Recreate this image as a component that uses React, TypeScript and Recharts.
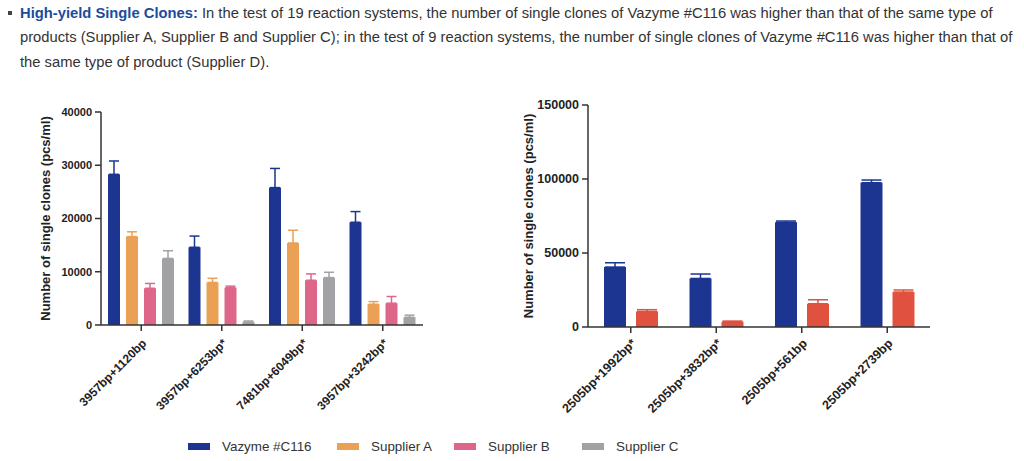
import React from 'react';
import { BarChart, Bar, XAxis, YAxis, ErrorBar } from 'recharts';

const leftCategories = ['3957bp+1120bp', '3957bp+6253bp*', '7481bp+6049bp*', '3957bp+3242bp*'];
const vazymeLeft = [28300, 14600, 25800, 19300];
const vazymeLeftErr = [2500, 2100, 3600, 2000];
const supplierA = [16600, 8000, 15400, 3900];
const supplierAErr = [900, 770, 2400, 500];
const supplierB = [6900, 7000, 8400, 4100];
const supplierBErr = [900, 300, 1200, 1250];
const supplierC = [12500, 550, 8900, 1450];
const supplierCErr = [1450, 200, 1000, 400];
const leftTicks = [0, 10000, 20000, 30000, 40000];

const rightCategories = ['2505bp+1992bp*', '2505bp+3832bp*', '2505bp+561bp', '2505bp+2739bp'];
const vazymeRight = [40500, 32800, 70700, 97500];
const vazymeRightErr = [2900, 3000, 900, 1800];
const supplierD = [10500, 3500, 15700, 23600];
const supplierDErr = [1200, 500, 2700, 1400];
const rightTicks = [0, 50000, 100000, 150000];

const legendNames = ['Vazyme #C116', 'Supplier A', 'Supplier B', 'Supplier C'];

const BLUE = '#1b3591';
const ORANGE = '#eaa055';
const PINK = '#de6789';
const GRAY = '#a2a2a6';
const RED = '#e0513f';
const AXIS = '#333333';
const FONT = '"Liberation Sans", Arial, Helvetica, sans-serif';

const leftData = leftCategories.map((c, i) => ({
  name: c,
  v: vazymeLeft[i], ve: [0, vazymeLeftErr[i]],
  a: supplierA[i], ae: [0, supplierAErr[i]],
  b: supplierB[i], be: [0, supplierBErr[i]],
  c: supplierC[i], ce: [0, supplierCErr[i]],
}));

const rightData = rightCategories.map((c, i) => ({
  name: c,
  v: vazymeRight[i], ve: [0, vazymeRightErr[i]],
  d: supplierD[i], de: [0, supplierDErr[i]],
}));

const makeXTick = (fontSize: number, down: number) => (props: any) => {
  const { x, y, payload } = props;
  return (
    <g transform={`translate(${x + 3},${y + down})`}>
      <text x={0} y={0} dy="0.35em" textAnchor="end" transform="rotate(-45)" fontSize={fontSize}
        fontWeight="bold" fill="#222" fontFamily={FONT}>
        {payload.value}
      </text>
    </g>
  );
};

const yTitle = 'Number of single clones (pcs/ml)';

const lineStyle: React.CSSProperties = { position: 'absolute', left: 20, fontSize: 14.75, lineHeight: '20px', color: '#333', whiteSpace: 'nowrap' };

export default function App() {
  return (
    <div style={{ position: 'absolute', left: 0, top: 0, width: 1024, height: 461, background: '#fff', fontFamily: FONT, overflow: 'hidden' }}>
      <div style={{ position: 'absolute', left: 8, top: 11, width: 4, height: 4, background: '#444' }} />
      <div style={{ ...lineStyle, top: 3 }}>
        <span style={{ color: '#1c4c9c', fontWeight: 'bold' }}>High-yield Single Clones:</span> In the test of 19 reaction systems, the number of single clones of Vazyme #C116 was higher than that of the same type of
      </div>
      <div style={{ ...lineStyle, top: 27 }}>
        products (Supplier A, Supplier B and Supplier C); in the test of 9 reaction systems, the number of single clones of Vazyme #C116 was higher than that of
      </div>
      <div style={{ ...lineStyle, top: 52 }}>
        the same type of product (Supplier D).
      </div>

      <div style={{ position: 'absolute', left: 0, top: 90 }}>
        <BarChart width={440} height={340} data={leftData} margin={{ top: 22, right: 17, bottom: 45, left: 0 }}
          barSize={12} barGap={6}>
          <XAxis dataKey="name" height={60} stroke={AXIS} strokeWidth={1.5} tickSize={6} interval={0}
            tick={makeXTick(12, 8)} />
          <YAxis width={101} domain={[0, 40000]} ticks={leftTicks} stroke={AXIS} strokeWidth={1.5} tickSize={6} tickMargin={3}
            tick={{ fontSize: 11, fontWeight: 'bold', fill: '#222', fontFamily: FONT }}
            label={{ value: yTitle, angle: -90, position: 'center', dx: -5, fontSize: 13, fontWeight: 'bold', fill: '#222', fontFamily: FONT }} />
          <Bar dataKey="v" fill={BLUE} isAnimationActive={false}>
            <ErrorBar dataKey="ve" width={5} stroke={BLUE} strokeWidth={1.5} direction="y" />
          </Bar>
          <Bar dataKey="a" fill={ORANGE} isAnimationActive={false}>
            <ErrorBar dataKey="ae" width={5} stroke={ORANGE} strokeWidth={1.5} direction="y" />
          </Bar>
          <Bar dataKey="b" fill={PINK} isAnimationActive={false}>
            <ErrorBar dataKey="be" width={5} stroke={PINK} strokeWidth={1.5} direction="y" />
          </Bar>
          <Bar dataKey="c" fill={GRAY} isAnimationActive={false}>
            <ErrorBar dataKey="ce" width={5} stroke={GRAY} strokeWidth={1.5} direction="y" />
          </Bar>
        </BarChart>
      </div>

      <div style={{ position: 'absolute', left: 480, top: 90 }}>
        <BarChart width={480} height={340} data={rightData} margin={{ top: 15, right: 30, bottom: 43, left: 0 }}
          barSize={22} barGap={10}>
          <XAxis dataKey="name" height={60} stroke={AXIS} strokeWidth={1.5} tickSize={6} interval={0}
            tick={makeXTick(12.5, 6)} />
          <YAxis width={108} domain={[0, 150000]} ticks={rightTicks} stroke={AXIS} strokeWidth={1.5} tickSize={6} tickMargin={3}
            tick={{ fontSize: 12.5, fontWeight: 'bold', fill: '#222', fontFamily: FONT }}
            label={{ value: yTitle, angle: -90, position: 'center', dx: -6, fontSize: 13, fontWeight: 'bold', fill: '#222', fontFamily: FONT }} />
          <Bar dataKey="v" fill={BLUE} isAnimationActive={false}>
            <ErrorBar dataKey="ve" width={10} stroke={BLUE} strokeWidth={1.5} direction="y" />
          </Bar>
          <Bar dataKey="d" fill={RED} isAnimationActive={false}>
            <ErrorBar dataKey="de" width={10} stroke={RED} strokeWidth={1.5} direction="y" />
          </Bar>
        </BarChart>
      </div>

      <div style={{ position: 'absolute', left: 188, top: 439, display: 'flex', alignItems: 'center', fontSize: 13.4, color: '#333', whiteSpace: 'nowrap' }}>
        {legendNames.map((n, i) => (
          <div key={n} style={{ display: 'flex', alignItems: 'center', width: [149, 117, 128, 140][i] }}>
            <div style={{ width: 22, height: 7, background: [BLUE, ORANGE, PINK, GRAY][i], marginRight: 12 }} />
            <span>{n}</span>
          </div>
        ))}
      </div>
    </div>
  );
}
